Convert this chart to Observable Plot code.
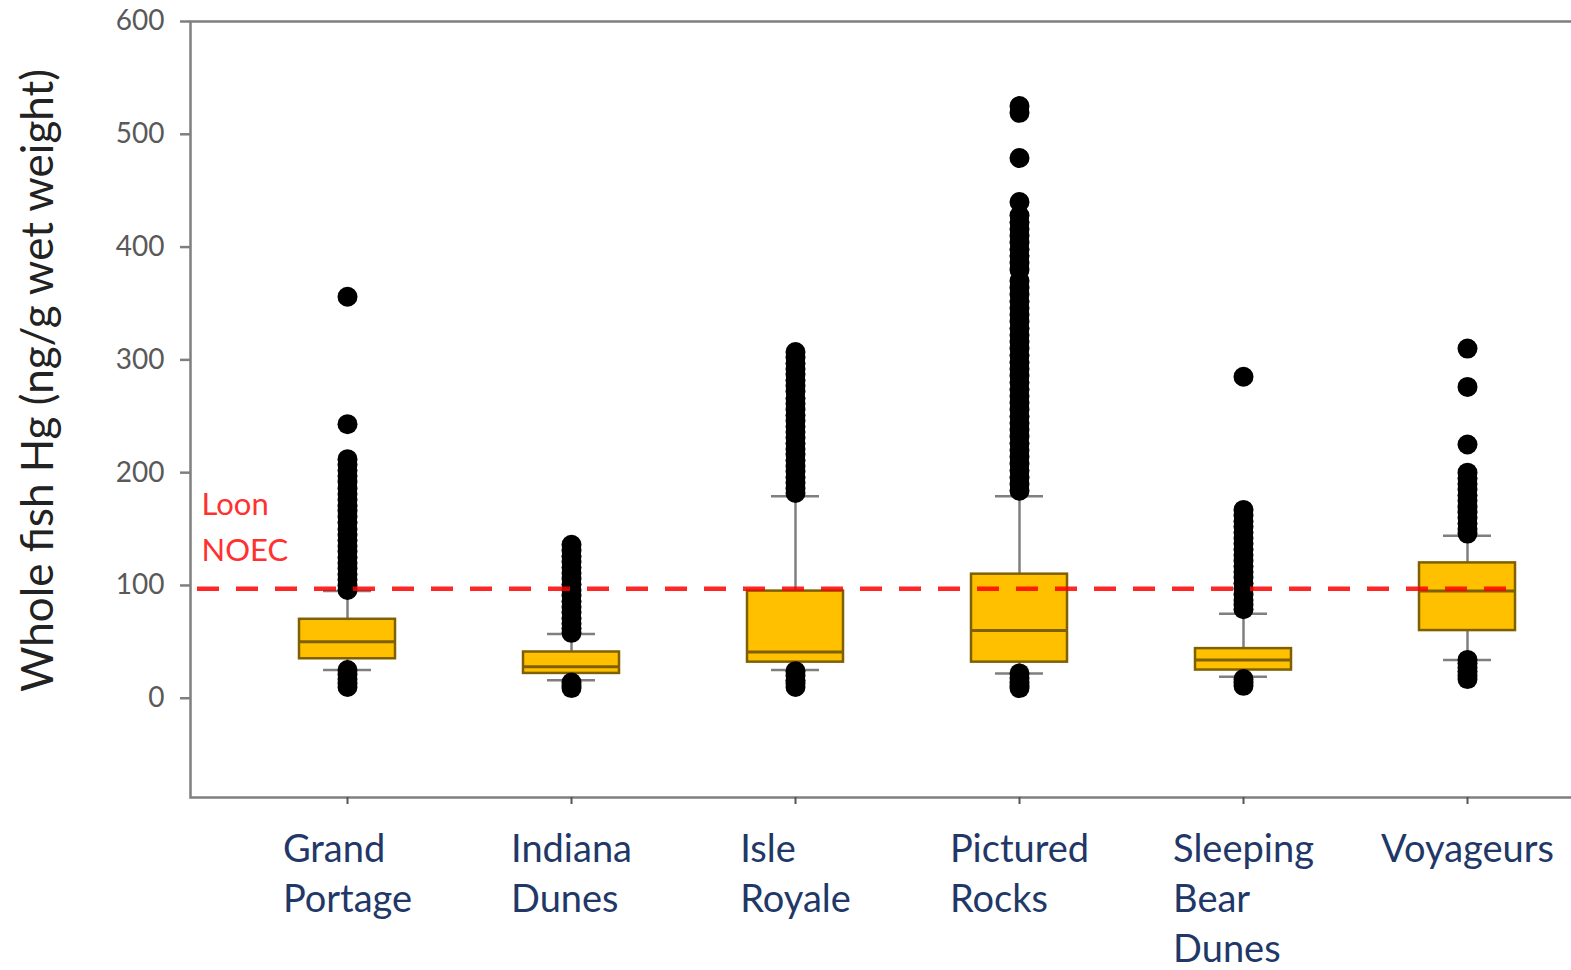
<!DOCTYPE html>
<html>
<head>
<meta charset="utf-8">
<script src="https://cdn.jsdelivr.net/npm/d3@7"></script>
<script src="https://cdn.jsdelivr.net/npm/@observablehq/plot@0.6"></script>
<style>
  html, body { margin: 0; padding: 0; background: #ffffff; overflow: hidden; }
  #chart { width: 1571px; height: 970px; }
</style>
</head>
<body>
<div id="chart"></div>
<script>
// Parks (box categories) and their two/three-line tick labels
const sites = ["Grand Portage", "Indiana Dunes", "Isle Royale", "Pictured Rocks", "Sleeping Bear Dunes", "Voyageurs"];
const siteLabels = ["Grand\nPortage", "Indiana\nDunes", "Isle\nRoyale", "Pictured\nRocks", "Sleeping\nBear\nDunes", "Voyageurs"];

// Box-plot summary statistics, whole fish Hg (ng/g wet weight)
const whiskerLow  = [25, 16, 25, 22, 19, 34];
const q1          = [35, 22, 32, 32, 25, 60];
const median      = [50, 28, 41, 60, 34, 95];
const q3          = [70, 41, 95, 110, 44, 120];
const whiskerHigh = [95, 57, 179, 179, 75, 144];

// Outlying fish, per park
const outGrandPortage = [356, 243, 212, 207, 202, 197, 192, 186, 181, 176, 171, 166, 161, 156, 150, 145, 140, 135, 130, 125, 120, 115, 110, 105, 100, 96, 25, 21, 17, 13, 10];
const outIndianaDunes = [136, 131, 126, 121, 116, 111, 106, 101, 96, 91, 86, 81, 76, 71, 66, 62, 58, 14, 11, 9];
const outIsleRoyale = [307, 302, 297, 292, 287, 282, 277, 272, 266, 261, 256, 251, 246, 241, 236, 231, 226, 221, 216, 211, 206, 201, 196, 191, 186, 182, 24, 20, 16, 13, 10];
const outPicturedRocks = [525, 519, 479, 440, 428, 422, 416, 410, 404, 398, 392, 386, 380, 370, 364, 358, 352, 346, 340, 334, 328, 322, 316, 310, 304, 298, 292, 286, 280, 274, 268, 262, 256, 250, 244, 238, 232, 226, 220, 214, 208, 202, 196, 190, 184, 22, 18, 14, 11, 9];
const outSleepingBear = [285, 167, 162, 157, 152, 147, 142, 137, 132, 127, 122, 117, 112, 107, 102, 97, 92, 87, 83, 79, 17, 14, 11];
const outVoyageurs = [310, 276, 225, 200, 195, 190, 185, 180, 175, 170, 165, 160, 155, 150, 146, 34, 31, 27, 24, 20, 17];

// Reference threshold
const noecValue = 97;
const noecLabel = "Loon\nNOEC";

const yTicks = [0, 100, 200, 300, 400, 500, 600];
const yLabel = "Whole fish Hg (ng/g wet weight)";

// Tables built from the arrays above
const stats = sites.map((site, i) => ({
  site, lo: whiskerLow[i], q1: q1[i], median: median[i], q3: q3[i], hi: whiskerHigh[i]
}));
const outlierLists = [outGrandPortage, outIndianaDunes, outIsleRoyale, outPicturedRocks, outSleepingBear, outVoyageurs];
const outliers = sites.flatMap((site, i) => outlierLists[i].map(value => ({site, value})));

const FONT = "Lato, 'Open Sans', sans-serif";
const labelSize = 38;

// Width of the widest line of each tick label, so lines can be left-aligned in a centred block
const ctx = document.createElement("canvas").getContext("2d");
ctx.font = `${labelSize}px Lato`;
const blockWidth = siteLabels.map(s => d3.max(s.split("\n"), line => ctx.measureText(line).width));

const gray = "#7f7f7f";

const chart = Plot.plot({
  width: 1571,
  height: 970,
  marginTop: 21,
  marginBottom: 173,
  marginLeft: 190,
  marginRight: 0,
  style: {fontFamily: FONT, background: "#ffffff", overflow: "hidden"},
  x: {type: "band", domain: sites, range: [235, 1580], paddingInner: 0.57, paddingOuter: 0.285, align: 0.5},
  y: {domain: [-88, 600]},
  marks: [
    Plot.frame({stroke: gray, strokeWidth: 2.5, insetRight: -10}),
    Plot.axisY({ticks: yTicks, tickSize: 10, tickPadding: 16, fontSize: 28, stroke: gray, strokeWidth: 2.5, fill: "#595959", label: null, tickFormat: d3.format("d")}),
    Plot.axisX({tickSize: 7, stroke: "#555555", strokeWidth: 2, tickFormat: () => "", label: null}),
    // y-axis title
    Plot.text([yLabel], {frameAnchor: "left", dx: -152, dy: -29, rotate: -90, textAnchor: "middle", fontSize: 44, fill: "#222222"}),
    // whiskers and caps
    Plot.ruleX(stats, {x: "site", y1: "lo", y2: "q1", stroke: gray, strokeWidth: 2.5}),
    Plot.ruleX(stats, {x: "site", y1: "q3", y2: "hi", stroke: gray, strokeWidth: 2.5}),
    Plot.tickY(stats, {x: "site", y: "lo", stroke: gray, strokeWidth: 2.5, insetLeft: 24, insetRight: 24}),
    Plot.tickY(stats, {x: "site", y: "hi", stroke: gray, strokeWidth: 2.5, insetLeft: 24, insetRight: 24}),
    // interquartile boxes and medians
    Plot.barY(stats, {x: "site", y1: "q1", y2: "q3", fill: "#ffc000", stroke: "#7f6000", strokeWidth: 2.5}),
    Plot.tickY(stats, {x: "site", y: "median", stroke: "#7f6000", strokeWidth: 3}),
    // outliers
    Plot.dot(outliers, {x: "site", y: "value", r: 10, fill: "#000000", stroke: "none"}),
    // Loon NOEC threshold
    Plot.ruleY([noecValue], {stroke: "#ff0000", strokeWidth: 4.5, strokeDasharray: "22,17", insetLeft: 7, insetRight: 48, strokeOpacity: 0.85}),
    Plot.text([noecLabel], {frameAnchor: "left", y: () => noecValue, dx: 11, dy: -106, lineAnchor: "top", lineHeight: 1.48, textAnchor: "start", fontSize: 31, fill: "#ff3030"}),
    // park names under each tick
    ...sites.map((site, i) => Plot.text([site], {
      x: d => d, text: () => siteLabels[i], frameAnchor: "bottom",
      dx: -blockWidth[i] / 2, dy: 29, textAnchor: "start", lineAnchor: "top",
      lineHeight: 1.32, fontSize: labelSize, fill: "#1f3868"
    }))
  ]
});

document.getElementById("chart").appendChild(chart);
</script>
</body>
</html>
